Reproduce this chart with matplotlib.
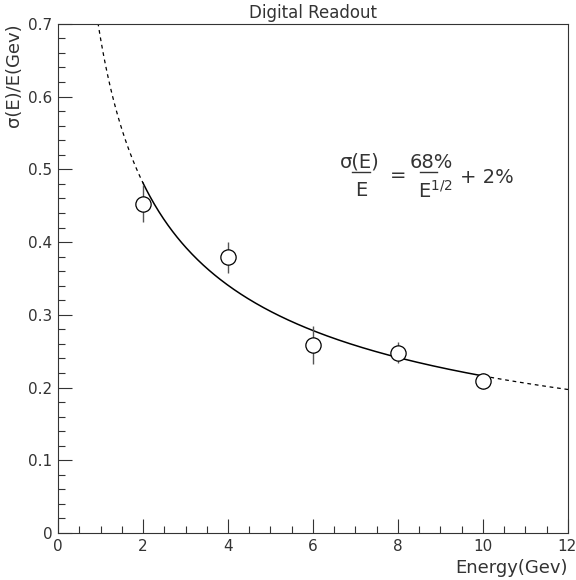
import matplotlib
matplotlib.use('Agg')
import matplotlib.pyplot as plt
from matplotlib.ticker import MultipleLocator
import numpy as np

energia = [2, 4, 6, 8, 10]
resolucion = [0.453, 0.379, 0.259, 0.248, 0.209]
error_res = [0.026, 0.021, 0.026, 0.014, 0.011]

# Parametros del ajuste: termino estocastico y constante (suma en cuadratura)
a_estocastico = 0.68
b_constante = 0.02

x_ticks = [0, 2, 4, 6, 8, 10, 12]
y_ticks = [0, 0.1, 0.2, 0.3, 0.4, 0.5, 0.6, 0.7]
y_etiquetas = ['0', '0.1', '0.2', '0.3', '0.4', '0.5', '0.6', '0.7']

def ajuste(E):
    return np.sqrt((a_estocastico / np.sqrt(E))**2 + b_constante**2)

plt.rcParams['font.family'] = 'DejaVu Sans'
gris = '#333333'

fig = plt.figure(figsize=(5.76, 5.80), dpi=100)
ax = fig.add_axes([0.1007, 0.081, 0.8854, 0.8779])

# Curva del ajuste: solida en el rango ajustado, punteada fuera
E_sol = np.linspace(2, 10, 300)
E_izq = np.linspace(0.94, 2, 100)
E_der = np.linspace(10, 12, 100)
ax.plot(E_sol, ajuste(E_sol), color='black', lw=1.1)
ax.plot(E_izq, ajuste(E_izq), color='black', lw=0.9, ls=(0, (3, 3)))
ax.plot(E_der, ajuste(E_der), color='black', lw=0.9, ls=(0, (3, 3)))

# Puntos con barras de error
ax.errorbar(energia, resolucion, yerr=error_res, fmt='o', ms=11,
            mfc='white', mec='black', mew=0.9, ecolor='#555555',
            elinewidth=1.0, capsize=0, zorder=3)

ax.set_xlim(0, 12)
ax.set_ylim(0, 0.7)
ax.set_xticks(x_ticks)
# la ultima etiqueta ("12") se pone aparte, alineada a la derecha
ax.set_xticklabels([str(t) for t in x_ticks[:-1]] + [''])
ax.xaxis.set_minor_locator(MultipleLocator(0.5))
ax.set_yticks(y_ticks)
ax.set_yticklabels(y_etiquetas)
ax.yaxis.set_minor_locator(MultipleLocator(0.02))
ax.tick_params(which='both', direction='in', top=False, right=False,
               labelsize=11, colors=gris, width=0.8)
ax.tick_params(which='major', length=10, pad=4)
ax.tick_params(which='minor', length=5)
for s in ax.spines.values():
    s.set_linewidth(0.8)
    s.set_color(gris)

ax.annotate(str(x_ticks[-1]), xy=(x_ticks[-1], 0), xycoords='data',
            xytext=(6, -4), textcoords='offset points',
            ha='right', va='top', fontsize=11, color=gris)

ax.set_xlabel('Energy(Gev)', fontsize=13, color=gris, loc='right')
ax.set_ylabel('σ(E)/E(Gev)', fontsize=13, color=gris, loc='top')
ax.set_title('Digital Readout', fontsize=12, color=gris, pad=4)

# Formula de la resolucion, armada por partes
fs = 14
ax.text(7.11, 0.510, 'σ(E)', fontsize=fs, color=gris, ha='center', va='center')
ax.plot([6.92, 7.34], [0.496, 0.496], color=gris, lw=1.0)
ax.text(7.13, 0.471, 'E', fontsize=fs, color=gris, ha='center', va='center')
ax.text(8.0, 0.492, '=', fontsize=fs, color=gris, ha='center', va='center')
ax.text(8.78, 0.510, '68%', fontsize=fs, color=gris, ha='center', va='center')
ax.plot([8.52, 8.92], [0.496, 0.496], color=gris, lw=1.0)
ax.text(8.87, 0.471, r'E$^{1/2}$', fontsize=fs, color=gris, ha='center', va='center')
ax.text(10.09, 0.489, '+ 2%', fontsize=fs, color=gris, ha='center', va='center')

plt.savefig('out.png', dpi=100)
